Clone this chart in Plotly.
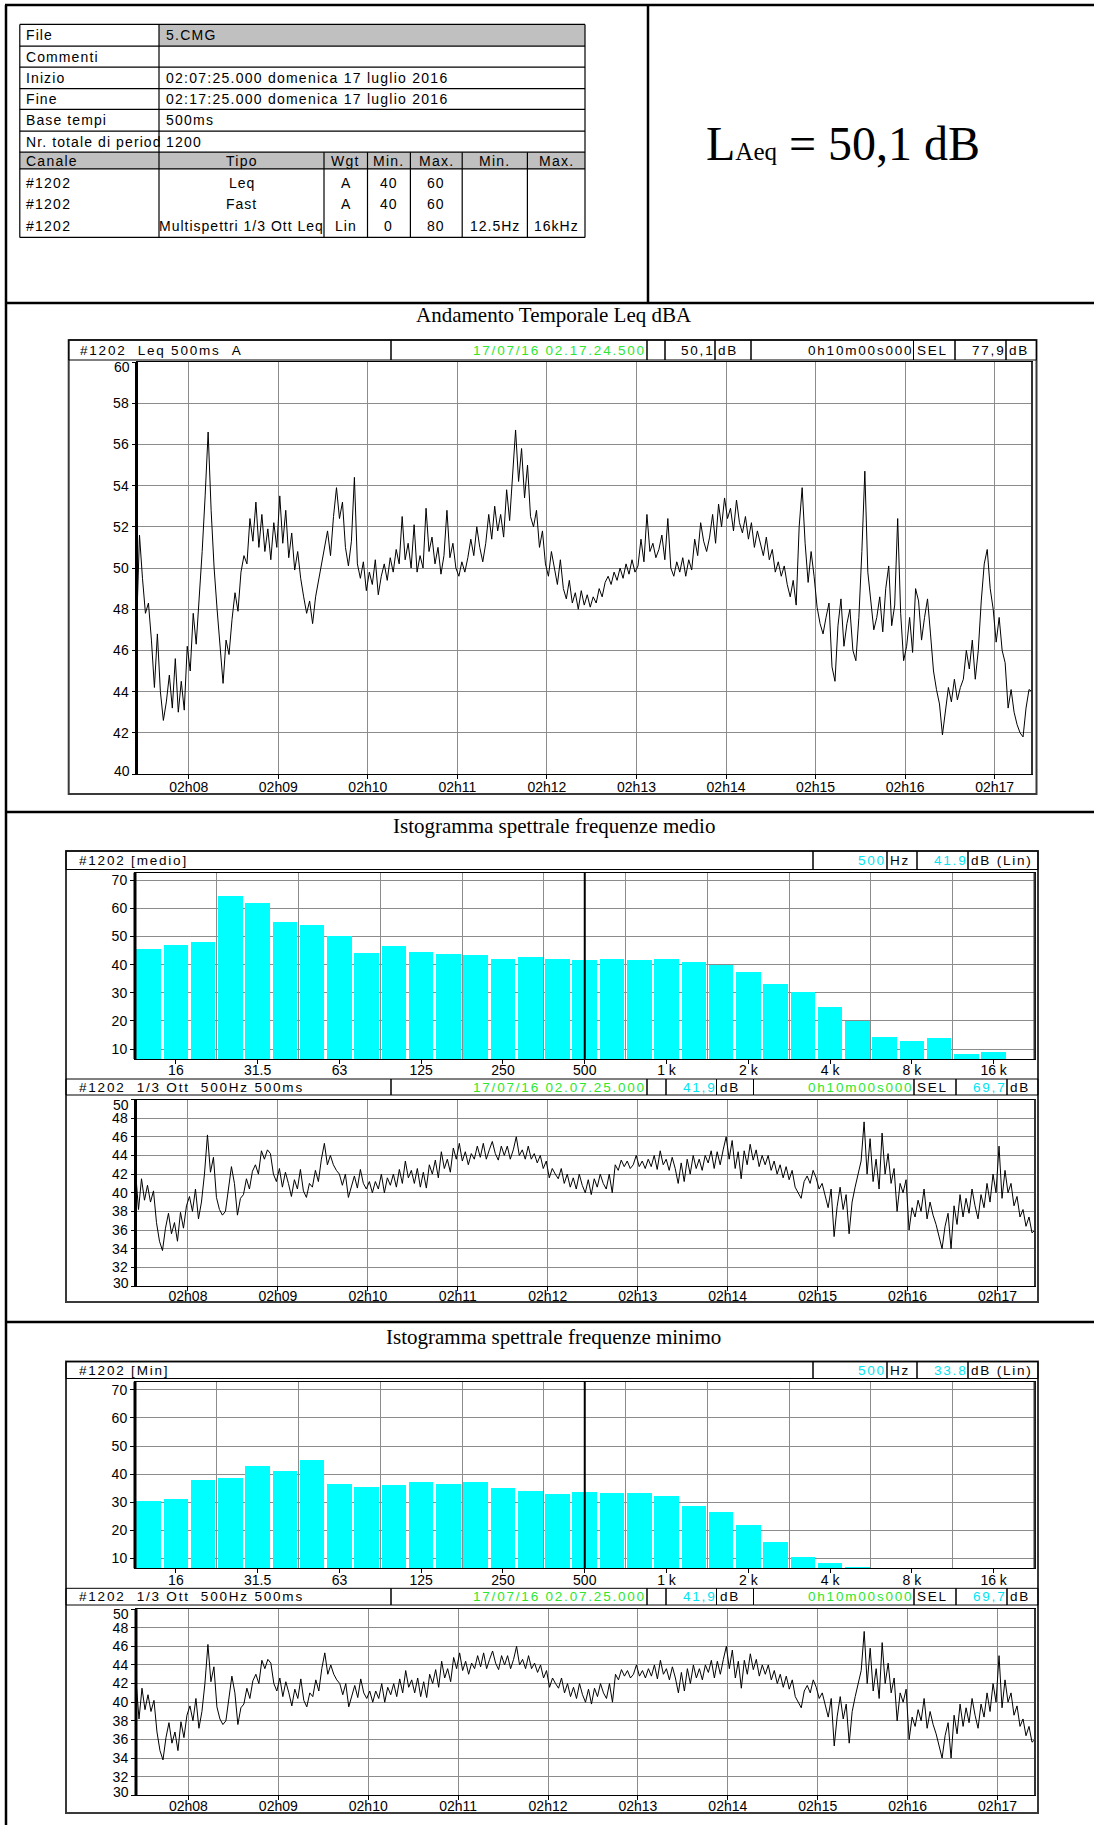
import pandas as pd
import plotly.graph_objects as go

W, H = 1094, 1825
SANS = "Liberation Sans, Arial, sans-serif"
SERIF = "Liberation Serif, Times New Roman, serif"
GREEN = "#2ee62e"
CYAN = "#00e5f0"
GRID = "#8c8c8c"
GREY_FILL = "#c0c0c0"

# ---------------- data ----------------
t_start = "2016-07-17 02:07:25"
t_end = "2016-07-17 02:17:25"
step = "2s"

# Leq(A) 500 ms, sampled every 2 s
leq_a = [
    47.0, 51.6, 49.5, 47.8, 48.3, 46.5, 44.2, 46.8, 44.0, 42.6,
    43.5, 44.8, 43.2, 45.6, 43.0, 44.5, 43.1, 46.2, 45.0, 47.8,
    46.3, 48.5, 50.8, 53.5, 56.6, 52.8, 50.0, 48.0, 46.2, 44.4,
    46.5, 45.8, 47.5, 48.8, 47.9, 49.8, 50.6, 50.2, 52.4, 51.3,
    53.2, 51.0, 52.6, 50.8, 51.9, 50.4, 52.2, 51.0, 53.5, 51.2,
    52.8, 50.5, 51.7, 49.9, 50.8, 49.5, 48.6, 47.8, 48.4, 47.3,
    48.6, 49.4, 50.3, 50.9, 51.8, 50.6, 52.5, 53.9, 52.4, 53.2,
    51.0, 50.1, 51.3, 54.4, 50.2, 49.5, 50.3, 48.9, 49.8, 49.2,
    50.4, 48.7, 49.6, 50.2, 49.4, 50.5, 49.8, 50.9, 50.2, 52.5,
    50.4, 51.2, 50.0, 52.1, 49.8, 50.6, 50.0, 52.9, 50.8, 51.5,
    50.2, 51.0, 49.7, 50.6, 52.8, 50.5, 51.2, 50.0, 49.6, 50.3,
    49.8, 50.5, 51.4, 50.6, 52.0, 51.0, 50.3, 51.2, 52.6, 51.4,
    53.0, 51.8, 52.6, 51.5, 53.8, 52.3, 54.5, 56.7, 54.2, 55.8,
    53.4, 55.0, 52.5, 52.0, 52.8, 51.0, 51.8, 50.2, 49.6, 50.8,
    50.0, 49.2, 50.4, 49.0, 48.5, 49.4, 48.3, 48.8, 48.0, 48.9,
    48.2, 48.7, 48.1, 48.6, 48.3, 49.0, 48.6, 49.3, 49.6, 49.2,
    49.8, 49.4, 50.0, 49.5, 50.2, 49.7, 50.4, 49.8, 50.1, 51.4,
    50.3, 52.6, 50.8, 51.2, 50.5, 50.9, 51.6, 50.4, 52.4, 50.0,
    49.6, 50.3, 49.8, 50.5, 49.6, 50.4, 49.9, 51.4, 50.6, 52.2,
    51.3, 50.8, 51.5, 52.6, 51.2, 53.1, 52.0, 53.4, 52.4, 52.9,
    51.8, 53.3, 52.2, 51.7, 52.5, 51.4, 52.2, 51.0, 51.8, 51.2,
    50.6, 51.5, 50.4, 50.9, 49.8, 50.3, 49.6, 50.1, 49.2, 48.6,
    49.4, 48.2, 52.0, 53.9, 51.2, 49.3, 50.8, 49.6, 48.1, 47.3,
    46.8, 47.6, 48.3, 45.2, 44.5, 47.2, 48.5, 46.2, 47.3, 48.0,
    46.0, 45.5, 47.6, 50.8, 54.7, 49.8, 48.2, 47.0, 47.6, 48.6,
    46.9, 49.0, 50.1, 47.2, 48.2, 52.4, 47.8, 45.5, 46.2, 47.6,
    45.9, 49.0, 48.4, 46.5, 47.6, 48.5, 46.8, 45.0, 44.1, 43.4,
    41.9, 43.0, 44.2, 43.5, 44.6, 43.6, 44.2, 44.6, 46.0, 45.1,
    46.5, 44.6, 46.0, 48.4, 50.2, 50.9, 49.0, 48.0, 46.4, 47.6,
    46.0, 45.4, 43.2, 44.1, 43.0, 42.4, 42.0, 41.8, 43.2, 44.1,
    44.0,
]

# 1/3 octave 500 Hz, sampled every 2 s
ott_500 = [
    42.3, 38.2, 41.5, 39.2, 40.8, 39.0, 40.2, 36.8, 34.8, 33.8,
    36.2, 37.8, 35.6, 36.8, 34.8, 37.9, 36.2, 38.6, 39.6, 38.0,
    40.4, 37.2, 39.0, 42.0, 46.2, 42.2, 43.8, 39.5, 38.2, 37.6,
    38.0, 40.2, 42.8, 41.0, 37.6, 39.4, 39.8, 41.5, 40.4, 42.3,
    43.0, 42.0, 44.5, 43.6, 44.6, 44.2, 42.0, 41.2, 42.6, 40.6,
    42.2, 41.0, 39.6, 41.4, 40.4, 42.5, 40.2, 39.5, 41.0, 40.6,
    42.4, 41.2, 43.6, 45.3, 43.0, 44.0, 43.0, 42.4, 42.0, 40.8,
    42.0, 39.5, 40.6, 41.8, 40.5, 42.5, 41.0, 40.4, 41.2, 40.0,
    41.2, 40.4, 42.0, 40.0, 41.6, 40.8, 42.0, 40.6, 42.5, 41.0,
    43.4, 41.6, 42.4, 41.0, 42.6, 40.6, 42.2, 40.5, 43.0, 42.0,
    43.5, 41.6, 44.4, 42.6, 43.6, 42.2, 44.8, 43.6, 45.3, 43.4,
    44.4, 43.0, 44.2, 43.6, 45.0, 43.8, 45.3, 43.6, 44.6, 45.5,
    44.2, 43.5, 45.0, 44.0, 45.0, 43.6, 44.6, 46.0, 44.0, 44.6,
    43.6, 45.0, 43.6, 44.2, 43.2, 44.0, 42.6, 43.4, 41.6, 42.6,
    42.0, 41.5, 42.6, 41.0, 42.0, 40.6, 41.6, 40.4, 42.0, 40.8,
    40.0, 41.4, 39.8, 41.5, 40.6, 42.0, 41.0, 40.4, 42.0, 40.0,
    43.0, 42.4, 43.5, 42.8, 43.4, 42.6, 43.0, 44.0, 42.8, 43.4,
    42.6, 43.6, 42.8, 44.0, 42.5, 44.5, 43.0, 43.6, 42.4, 43.8,
    42.6, 41.0, 43.2, 41.2, 43.6, 42.0, 44.0, 42.6, 43.6, 42.4,
    44.0, 43.2, 44.5, 42.6, 44.4, 43.0, 44.6, 46.0, 43.6, 45.6,
    42.6, 44.4, 41.5, 44.5, 43.0, 45.2, 43.5, 44.6, 42.8, 44.0,
    43.0, 44.0, 42.4, 43.4, 42.0, 43.0, 41.6, 42.8, 41.4, 42.4,
    40.6, 40.0, 39.4, 41.2, 41.8, 41.0, 42.4, 41.6, 40.4, 41.0,
    39.8, 38.4, 40.4, 35.3, 38.5, 40.6, 38.2, 39.8, 35.6, 39.0,
    40.6, 42.0, 43.4, 47.6, 42.0, 45.8, 41.2, 43.6, 40.4, 46.4,
    42.0, 44.2, 41.0, 42.6, 38.0, 41.0, 40.0, 41.4, 36.0, 38.4,
    37.4, 39.2, 38.0, 40.4, 37.2, 39.0, 37.6, 36.6, 35.2, 34.0,
    36.4, 37.8, 34.0, 38.6, 36.6, 39.8, 37.4, 39.4, 37.8, 40.4,
    38.6, 37.2, 39.8, 38.4, 41.0, 39.0, 42.0, 40.0, 45.0, 39.4,
    42.4, 40.0, 41.0, 38.6, 39.6, 37.4, 38.2, 36.4, 37.4, 35.7,
    36.0,
]

bands = ["12.5", "16", "20", "25", "31.5", "40", "50", "63", "80", "100",
         "125", "160", "200", "250", "315", "400", "500", "630", "800", "1 k",
         "1.25 k", "1.6 k", "2 k", "2.5 k", "3.15 k", "4 k", "5 k", "6.3 k", "8 k", "10 k",
         "12.5 k", "16 k", "20 k"]
spec_medio = [45.8, 47.2, 48.2, 64.6, 62.1, 55.3, 54.3, 50.3, 44.3, 46.8,
              44.7, 44.0, 43.6, 42.0, 42.8, 42.0, 41.9, 42.0, 41.9, 42.0,
              41.0, 40.0, 37.5, 33.2, 30.3, 25.1, 20.1, 14.5, 13.0, 14.1,
              8.5, 8.9, 6.0]
spec_min = [30.4, 31.1, 37.9, 38.6, 42.9, 41.1, 45.0, 36.5, 35.4, 36.1,
            37.2, 36.5, 37.2, 35.1, 34.0, 32.9, 33.8, 33.3, 33.3, 32.2,
            28.7, 26.5, 21.9, 15.9, 10.6, 8.6, 7.0, 6.6, 6.8, 6.8,
            6.0, 6.8, 6.0]
band_ticks = ["16", "31.5", "63", "125", "250", "500", "1 k", "2 k", "4 k", "8 k", "16 k"]
minute_ticks = ["02h08", "02h09", "02h10", "02h11", "02h12",
                "02h13", "02h14", "02h15", "02h16", "02h17"]
cursor_band = "500"

times = pd.date_range(t_start, periods=len(leq_a), freq=step)
minute_vals = [d.strftime("%Y-%m-%d %H:%M:%S")
               for d in pd.date_range("2016-07-17 02:08:00", periods=len(minute_ticks), freq="1min")]
band_idx = list(range(len(bands)))
band_tickvals = [bands.index(b) for b in band_ticks]
band_bounds = [i + 2.5 for i in range(0, 30, 3)]

# ---------------- helpers (pixel -> paper) ----------------
def fx(x):
    return x / W


def fy(y):
    return 1 - y / H


shapes, annotations = [], []


def line(x0, y0, x1, y1, w=1, color="black"):
    shapes.append(dict(type="line", xref="paper", yref="paper",
                       x0=fx(x0), y0=fy(y0), x1=fx(x1), y1=fy(y1),
                       line=dict(color=color, width=w)))


def rect(x0, y0, x1, y1, w=1, color="black", fill="rgba(0,0,0,0)"):
    shapes.append(dict(type="rect", xref="paper", yref="paper",
                       x0=fx(x0), y0=fy(y1), x1=fx(x1), y1=fy(y0),
                       line=dict(color=color, width=w), fillcolor=fill))


def label(x, y, s, size=14, color="black", anchor="left", family=SANS, spacing=1.25):
    if spacing:
        s = f"<span style='letter-spacing:{spacing}px'>{s}</span>"
    annotations.append(dict(xref="paper", yref="paper", x=fx(x), y=fy(y), text=s,
                            showarrow=False, xanchor=anchor, yanchor="middle",
                            font=dict(family=family, size=size, color=color)))


def cells(y0, y1, spec, first_pad=10):
    for k, (x0, x1, text, color, align) in enumerate(spec):
        rect(x0, y0, x1, y1, w=1)
        if not text:
            continue
        yc = (y0 + y1) / 2
        if align == "right":
            label(x1 + 1, yc, text, color=color, anchor="right", size=13.5, spacing=1.8)
        else:
            pad = first_pad if k == 0 else 1
            label(x0 + pad, yc, text, color=color, anchor="left", size=13.5, spacing=1.8)


NB = "\u00a0"

# ---------------- page frame ----------------
line(5, 5, W, 5, w=2.5)
line(6, 5, 6, H, w=2.5)
line(648, 5, 648, 303, w=2.5)
for yy in (303, 812, 1322):
    line(6, yy, W, yy, w=2.5)

# ---------------- info table ----------------
tx0, tx1, tcol = 19.8, 585, 159
rows_y = [24.4, 46.1, 67.2, 88.6, 109.3, 131.1, 152.2, 168.9]
t_bottom = 237.4
rect(tcol, rows_y[0], tx1, rows_y[1], w=0, fill=GREY_FILL)
rect(tx0, rows_y[6], tx1, rows_y[7], w=0, fill=GREY_FILL)
for yy in rows_y + [t_bottom]:
    line(tx0, yy, tx1, yy, w=1.2)
line(tx0, rows_y[0], tx0, t_bottom, w=1.2)
line(tx1, rows_y[0], tx1, t_bottom, w=1.2)
line(tcol, rows_y[0], tcol, t_bottom, w=1.2)
low_cols = [324, 367.5, 410.4, 462.2, 527.4]
for xx in low_cols:
    line(xx, rows_y[6], xx, t_bottom, w=1.2)

info_keys = ["File", "Commenti", "Inizio", "Fine", "Base tempi", "Nr. totale di period"]
info_vals = ["5.CMG", "", "02:07:25.000 domenica 17 luglio 2016",
             "02:17:25.000 domenica 17 luglio 2016", "500ms", "1200"]
for i, (k, v) in enumerate(zip(info_keys, info_vals)):
    yc = (rows_y[i] + rows_y[i + 1]) / 2
    label(tx0 + 4, yc, k, spacing=1.1)
    if v:
        label(tcol + 5, yc, v)

col_edges = [tx0, tcol] + low_cols + [tx1]
col_heads = ["Canale", "Tipo", "Wgt", "Min.", "Max.", "Min.", "Max."]
hc = (rows_y[6] + rows_y[7]) / 2
label(tx0 + 4, hc, col_heads[0])
for j in range(1, len(col_heads)):
    label((col_edges[j] + col_edges[j + 1]) / 2, hc, col_heads[j], anchor="center")

chan_rows = [
    ["#1202", "Leq", "A", "40", "60", "", ""],
    ["#1202", "Fast", "A", "40", "60", "", ""],
    ["#1202", "Multispettri 1/3 Ott Leq", "Lin", "0", "80", "12.5Hz", "16kHz"],
]
for r, yc in zip(chan_rows, (183, 204.5, 226)):
    label(tx0 + 4, yc, r[0])
    for j in range(1, len(r)):
        if r[j]:
            label((col_edges[j] + col_edges[j + 1]) / 2, yc, r[j], anchor="center",
                  spacing=1.0)

# LAeq result
label(842.5, 144, "L<span style='font-size:25px'>Aeq</span> = 50,1 dB",
      size=48, family=SERIF, anchor="center", spacing=0)

# ---------------- section titles ----------------
label(554, 315, "Andamento Temporale Leq dBA", size=21, family=SERIF, anchor="center", spacing=0)
label(554, 826, "Istogramma spettrale frequenze medio", size=21, family=SERIF, anchor="center", spacing=0)
label(554, 1337, "Istogramma spettrale frequenze minimo", size=21, family=SERIF, anchor="center", spacing=0)

# ---------------- chart frames and header bars ----------------
FRAME = "#3a3a3a"
rect(68.7, 340, 1036.5, 794, w=2, color=FRAME)
rect(66, 851, 1038, 1302, w=2, color=FRAME)
rect(66, 1361.6, 1038, 1813, w=2, color=FRAME)

cells(340, 360, [
    (68.7, 391, f"#1202{NB}{NB}Leq 500ms{NB}{NB}A", "black", "left"),
    (391, 647, "17/07/16 02.17.24.500", GREEN, "right"),
    (647, 665, "", "black", "left"),
    (665, 715, "50,1", "black", "right"),
    (715, 751, "dB", "black", "left"),
    (751, 913.5, "0h10m00s000", "black", "right"),
    (913.5, 955, "SEL", "black", "left"),
    (955, 1006, "77,9", "black", "right"),
    (1006, 1036.5, "dB", "black", "left"),
], first_pad=9)


def spectrum_header(y0, y1, title, value):
    cells(y0, y1, [
        (66, 813, title, "black", "left"),
        (813, 887, cursor_band, CYAN, "right"),
        (887, 917, "Hz", "black", "left"),
        (917, 968, value, CYAN, "right"),
        (968, 1038, "dB (Lin)", "black", "left"),
    ], first_pad=11)


def ott_header(y0, y1):
    cells(y0, y1, [
        (66, 391, f"#1202{NB}{NB}1/3 Ott{NB}{NB}500Hz 500ms", "black", "left"),
        (391, 647, "17/07/16 02.07.25.000", GREEN, "right"),
        (647, 666, "", "black", "left"),
        (666, 716.5, "41,9", CYAN, "right"),
        (716.5, 753.5, "dB", "black", "left"),
        (753.5, 914, "0h10m00s000", GREEN, "right"),
        (914, 956, "SEL", "black", "left"),
        (956, 1007, "69,7", CYAN, "right"),
        (1007, 1038, "dB", "black", "left"),
    ], first_pad=11)


spectrum_header(851, 869.5, "#1202 [medio]", "41.9")
ott_header(1079, 1095)
spectrum_header(1361.6, 1378.5, "#1202 [Min]", "33.8")
ott_header(1588.3, 1605)

# ---------------- traces ----------------
fig = go.Figure()
fig.add_trace(go.Scatter(x=times, y=leq_a, mode="lines", line=dict(color="black", width=1),
                         xaxis="x", yaxis="y", hoverinfo="skip"))
fig.add_trace(go.Bar(x=band_idx, y=spec_medio, marker=dict(color="#00ffff", line=dict(width=0)),
                     width=0.9, xaxis="x2", yaxis="y2", hoverinfo="skip"))
fig.add_trace(go.Scatter(x=times, y=ott_500, mode="lines", line=dict(color="black", width=1),
                         xaxis="x3", yaxis="y3", hoverinfo="skip"))
fig.add_trace(go.Bar(x=band_idx, y=spec_min, marker=dict(color="#00ffff", line=dict(width=0)),
                     width=0.9, xaxis="x4", yaxis="y4", hoverinfo="skip"))
fig.add_trace(go.Scatter(x=times, y=ott_500, mode="lines", line=dict(color="black", width=1),
                         xaxis="x5", yaxis="y5", hoverinfo="skip"))

tick_font = dict(family=SANS, size=14, color="black")
common = dict(showline=True, mirror=True, linecolor="black", linewidth=1,
              ticks="outside", ticklen=4, tickcolor="black", tickfont=tick_font,
              zeroline=False, fixedrange=True)


def time_x(anchor, x0, x1, standoff):
    return dict(common, anchor=anchor, domain=[fx(x0), fx(x1)], type="date",
                range=[t_start, t_end], tickmode="array", tickvals=minute_vals,
                ticktext=minute_ticks, showgrid=True, gridcolor=GRID, gridwidth=1,
                ticklabelstandoff=standoff)


def level_y(anchor, x0, ybot, ytop, lo, hi):
    # end labels sit just inside the plot frame, like the instrument printout
    vals = list(range(lo, hi + 1, 2))
    text = ["" if v in (lo, hi) else str(v) for v in vals]
    label(x0 - 5, ytop + 5, str(hi), anchor="right", spacing=0)
    label(x0 - 5, ybot - 3, str(lo), anchor="right", spacing=0)
    return dict(common, anchor=anchor, domain=[fy(ybot), fy(ytop)], range=[lo, hi],
                tickmode="array", tickvals=vals, ticktext=text,
                showgrid=True, gridcolor=GRID, gridwidth=1)


def band_x(anchor, x0, x1, standoff):
    return dict(common, anchor=anchor, domain=[fx(x0), fx(x1)], range=[-0.5, len(bands) - 0.5],
                tickmode="array", tickvals=band_tickvals, ticktext=band_ticks, showgrid=False,
                ticklabelstandoff=standoff,
                minor=dict(tickmode="array", tickvals=band_bounds, showgrid=True,
                           gridcolor=GRID, gridwidth=1, ticks=""))


def spec_y(anchor, ybot, ytop, rng):
    return dict(common, anchor=anchor, domain=[fy(ybot), fy(ytop)], range=rng,
                tickmode="array", tickvals=[10, 20, 30, 40, 50, 60, 70],
                showgrid=True, gridcolor=GRID, gridwidth=1)


layout = dict(
    width=W, height=H, margin=dict(l=0, r=0, t=0, b=0), autosize=False,
    paper_bgcolor="white", plot_bgcolor="white", showlegend=False, hovermode=False,
    bargap=0,
    xaxis=time_x("y", 136.5, 1032, -4),
    yaxis=level_y("x", 136.5, 774, 362, 40, 60),
    xaxis2=band_x("y2", 135, 1034.5, -6),
    yaxis2=spec_y("x2", 1059, 872.7, [6.45, 72.7]),
    xaxis3=time_x("y3", 135.5, 1035, -7),
    yaxis3=level_y("x3", 135.5, 1286, 1099.5, 30, 50),
    xaxis4=band_x("y4", 135, 1034.5, -5),
    yaxis4=spec_y("x4", 1568.3, 1381.7, [6.45, 72.9]),
    xaxis5=time_x("y5", 136, 1035, -6),
    yaxis5=level_y("x5", 136, 1795.3, 1609.1, 30, 50),
)

# thick left/right plot borders and spectrum cursors
for xa, ya in (("x", "y"), ("x2", "y2"), ("x3", "y3"), ("x4", "y4"), ("x5", "y5")):
    shapes.append(dict(type="line", xref=f"{xa} domain", yref=f"{ya} domain",
                       x0=0, x1=0, y0=0, y1=1, line=dict(color="black", width=3)))
    shapes.append(dict(type="line", xref=f"{xa} domain", yref=f"{ya} domain",
                       x0=1, x1=1, y0=0, y1=1, line=dict(color="#333333", width=2)))
for xa, ya in (("x2", "y2"), ("x4", "y4")):
    ci = bands.index(cursor_band)
    shapes.append(dict(type="line", xref=xa, yref=f"{ya} domain",
                       x0=ci, x1=ci, y0=0, y1=1, line=dict(color="black", width=2)))

layout["shapes"] = shapes
layout["annotations"] = annotations
fig.update_layout(**layout)
fig.write_html("out.html")
